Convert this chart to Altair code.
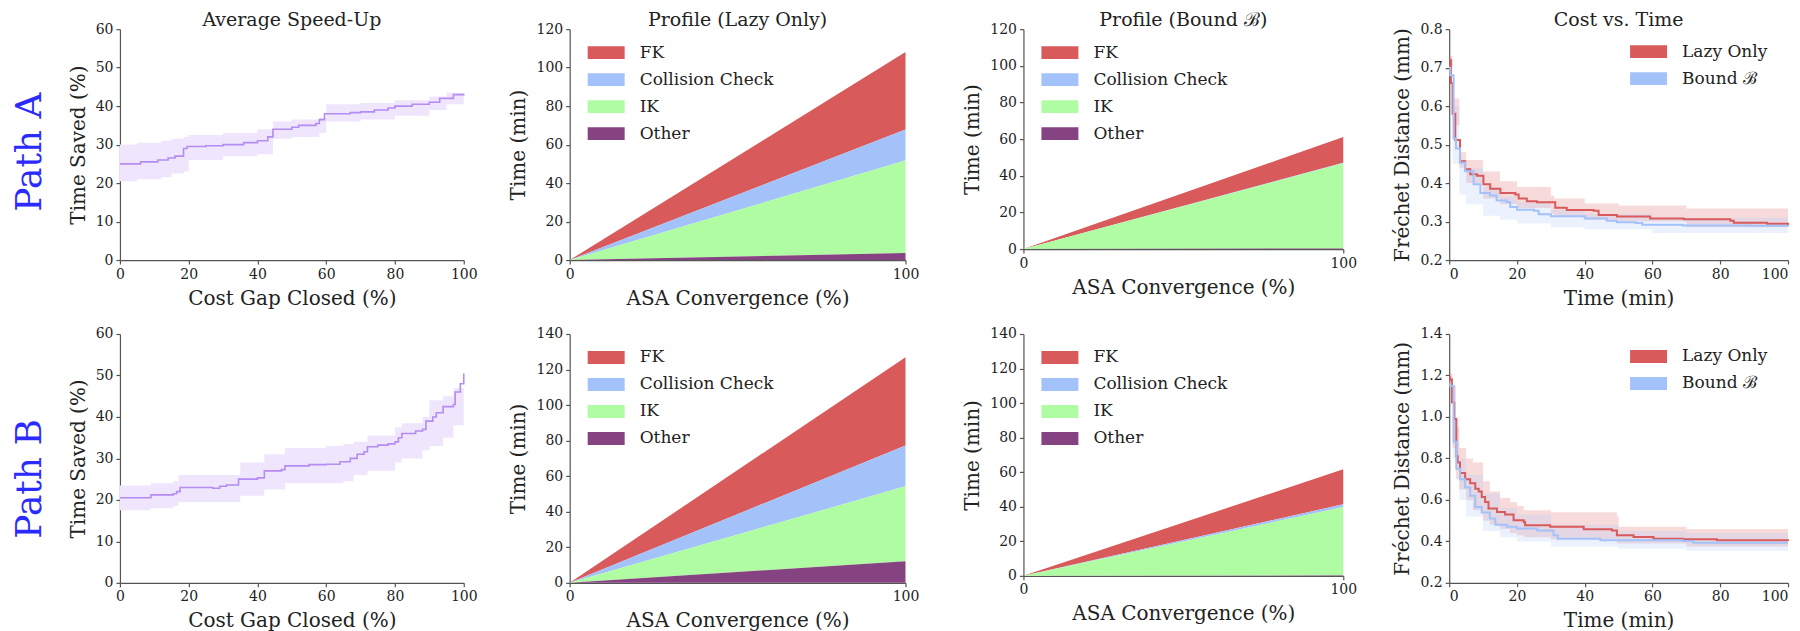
import altair as alt
import pandas as pd

FONT = "DejaVu Serif"
TXT = "#222222"
AXC = "#555555"

RED = "#d95a5b"
BLUE = "#a3c2f9"
GREEN = "#b0fca2"
PLUM = "#854381"
LINE_PURPLE = "#b48cf2"
BAND_PURPLE = "#efe6fd"
PATH_BLUE = "#2b2bff"

# ---------------- Average speed-up (Path A) ----------------
spA_x = [0, 6, 11, 14, 16, 18.5, 19.5, 25, 30, 36, 40, 43, 44.5, 50, 52, 57, 58, 59.5, 67, 70, 74, 78, 80, 85, 90, 93, 97, 100]
spA_y = [25, 25.5, 26, 26.5, 27, 29, 29.5, 29.7, 30, 30.5, 31, 32, 34, 34.5, 35, 35.5, 36.5, 38, 38.3, 38.5, 39, 39.5, 40, 40.5, 41, 42, 43, 43.2]
spA_band_x = [0, 5, 12, 15, 18.5, 20, 30, 40, 44.5, 50, 58, 60, 70, 80, 90, 95, 100]
spA_lo = [20.5, 21, 21.5, 22.5, 23, 26, 27, 27.5, 31.5, 32, 33, 36, 36.5, 37.5, 39, 40.5, 42]
spA_hi = [30, 30.5, 31, 31.5, 32, 32.5, 33, 34, 36, 36.5, 37, 40.5, 40.8, 41.5, 42.5, 43.5, 44]

# ---------------- Average speed-up (Path B) ----------------
spB_x = [0, 9, 15.5, 16.5, 17.5, 27, 29, 31, 34.5, 40, 42, 47, 48, 55, 60, 64, 67, 69, 71, 72, 75, 78, 80, 81, 82, 86, 88, 89, 91, 92, 94, 97, 97.5, 99, 100]
spB_y = [20.5, 21.2, 21.5, 22, 23, 22.8, 23.3, 23.6, 25, 25.3, 27, 27.3, 28.2, 28.5, 28.6, 29.2, 30, 31, 31.6, 32.8, 33.2, 33.5, 34, 35, 36, 36.6, 37, 39, 40, 41, 42.5, 43, 46, 48, 50.5]
spB_band_x = [0, 9, 15.5, 17, 35, 42, 48, 60, 65, 68, 72, 80, 82, 88, 90, 94, 97, 100]
spB_lo = [17.5, 18, 18.5, 19.5, 21, 22.5, 24, 24, 24.5, 26, 27, 29, 30, 32, 33, 35, 38, 46]
spB_hi = [23.5, 24, 24.5, 26, 29, 31, 32.5, 33, 33.5, 34, 35.5, 37.5, 38.5, 40, 44, 45, 47, 52]

# ---------------- Profiles ----------------
categories = ["FK", "Collision Check", "IK", "Other"]
cat_colors = [RED, BLUE, GREEN, PLUM]
cat_stack = [3, 2, 1, 0]
prof_x = [0, 100]
profA_lazy_start = [0, 0, 0, 0]
profA_lazy_end = [40.3, 16.1, 48.1, 3.6]
profA_bound_start = [0, 0, 0, 0]
profA_bound_end = [14.0, 0.3, 46.5, 0.3]
profB_lazy_start = [0, 0, 0, 0]
profB_lazy_end = [49.6, 23.0, 42.1, 12.2]
profB_bound_start = [0, 0, 0, 0]
profB_bound_end = [20.3, 1.6, 39.5, 0.3]

# ---------------- Cost vs time ----------------
series_names = ["Lazy Only", "Bound \u212c"]
series_colors = [RED, BLUE]

cA_lazy_t = [0, 0.5, 1, 1.8, 3.2, 4.7, 6.2, 8.2, 10.1, 12.1, 15.1, 19.5, 20.5, 22.9, 25.9, 30.3, 31.3, 34.7, 42.6, 44.1, 49.5, 59.3, 69.2, 83, 84, 93.8, 100]
cA_lazy_v = [0.72, 0.66, 0.58, 0.512, 0.457, 0.436, 0.423, 0.419, 0.397, 0.385, 0.374, 0.37, 0.36, 0.353, 0.35, 0.35, 0.336, 0.33, 0.328, 0.317, 0.313, 0.308, 0.306, 0.302, 0.297, 0.294, 0.29]
cA_lazy_bt = [0, 1, 3, 5, 10, 15, 20, 30, 31, 40, 50, 70, 100]
cA_lazy_lo = [0.70, 0.55, 0.44, 0.40, 0.36, 0.345, 0.335, 0.32, 0.315, 0.305, 0.30, 0.285, 0.27]
cA_lazy_hi = [0.73, 0.62, 0.48, 0.46, 0.43, 0.405, 0.39, 0.368, 0.36, 0.347, 0.342, 0.334, 0.32]

cA_bound_t = [0, 0.3, 1.3, 2, 3.2, 4.7, 7.2, 9.2, 12, 14, 17, 18, 20, 25, 26.4, 30, 40, 46.5, 49.5, 55, 57, 69, 89, 100]
cA_bound_v = [0.70, 0.68, 0.516, 0.49, 0.453, 0.431, 0.397, 0.374, 0.368, 0.355, 0.351, 0.338, 0.331, 0.328, 0.319, 0.314, 0.308, 0.302, 0.298, 0.296, 0.292, 0.29, 0.289, 0.287]
cA_bound_bt = [0, 1, 3, 5, 10, 15, 20, 30, 40, 60, 100]
cA_bound_lo = [0.69, 0.45, 0.37, 0.345, 0.315, 0.305, 0.295, 0.285, 0.28, 0.27, 0.262]
cA_bound_hi = [0.71, 0.60, 0.46, 0.44, 0.39, 0.365, 0.35, 0.33, 0.32, 0.31, 0.30]

cB_lazy_t = [0, 0.3, 0.8, 1.5, 2.1, 2.5, 3.2, 4.7, 6.2, 7.7, 8.7, 9.6, 10.6, 11.6, 14.1, 16.5, 19, 22, 22.4, 29.8, 39.7, 48, 49.5, 54.4, 60.3, 69, 79, 100]
cB_lazy_v = [1.19, 1.18, 1.07, 0.99, 0.81, 0.78, 0.73, 0.70, 0.68, 0.654, 0.64, 0.614, 0.59, 0.558, 0.542, 0.529, 0.502, 0.494, 0.478, 0.47, 0.458, 0.453, 0.43, 0.421, 0.413, 0.41, 0.405, 0.402]
cB_lazy_bt = [0, 1, 2, 3, 5, 7, 10, 12, 15, 18, 20, 22, 30, 49.5, 50, 70, 100]
cB_lazy_lo = [1.17, 0.85, 0.70, 0.65, 0.60, 0.55, 0.50, 0.48, 0.46, 0.44, 0.43, 0.42, 0.41, 0.39, 0.39, 0.375, 0.36]
cB_lazy_hi = [1.21, 1.15, 0.95, 0.85, 0.80, 0.78, 0.69, 0.64, 0.61, 0.59, 0.57, 0.55, 0.54, 0.52, 0.47, 0.46, 0.455]

cB_bound_t = [0, 0.3, 1.3, 2.1, 3.2, 4.7, 6.2, 7.7, 9.6, 12, 13.6, 17, 20, 25.9, 30.8, 32, 44.6, 69, 72, 100]
cB_bound_v = [1.16, 1.15, 0.88, 0.75, 0.70, 0.66, 0.62, 0.566, 0.539, 0.51, 0.48, 0.47, 0.462, 0.453, 0.43, 0.413, 0.405, 0.402, 0.393, 0.393]
cB_bound_bt = [0, 1, 3, 5, 10, 15, 20, 30, 50, 70, 100]
cB_bound_lo = [1.14, 0.80, 0.60, 0.52, 0.45, 0.42, 0.40, 0.375, 0.365, 0.355, 0.34]
cB_bound_hi = [1.18, 1.00, 0.80, 0.72, 0.63, 0.56, 0.53, 0.48, 0.45, 0.44, 0.43]

# ---------------- layout sizes ----------------
W = [344, 336, 320, 339]
H_A, H_A3 = 231, 220
H_B, H_B3 = 249, 242
TEXT_W = 2
P3_SHIFT = 12  # extra room left of panel 3's plot area
COL_GAP = 106

RECT = "M-1,-0.35H1V0.35H-1Z"


def title_params(text, dx=0):
    return alt.TitleParams(text=text, font=FONT, fontSize=19, fontWeight="normal",
                           color=TXT, offset=-8, anchor="middle", dx=dx)


def legend(x, y):
    return alt.Legend(title=None, orient="none", legendX=x, legendY=y,
                      symbolType=RECT, symbolSize=1369, symbolStrokeWidth=0,
                      symbolOpacity=1, labelFont=FONT, labelFontSize=17,
                      labelColor=TXT, labelOffset=15, rowPadding=0, padding=0)


def speed_panel(xs, ys, bx, lo, hi, h, title=None):
    line_df = pd.DataFrame({"x": xs, "y": ys})
    band_df = pd.DataFrame({"x": bx, "lo": lo, "hi": hi})
    xsc = alt.Scale(domain=[0, 100], nice=False)
    ysc = alt.Scale(domain=[0, 60], nice=False)
    xax = alt.Axis(values=[0, 20, 40, 60, 80, 100], title="Cost Gap Closed (%)")
    yax = alt.Axis(values=[0, 10, 20, 30, 40, 50, 60], title="Time Saved (%)")
    band = alt.Chart(band_df).mark_area(interpolate="step-after", color=BAND_PURPLE).encode(
        x=alt.X("x:Q", scale=xsc, axis=xax),
        y=alt.Y("lo:Q", scale=ysc, axis=yax),
        y2="hi:Q",
    )
    line = alt.Chart(line_df).mark_line(interpolate="step-after", color=LINE_PURPLE, strokeWidth=1.6).encode(
        x=alt.X("x:Q", scale=xsc, axis=xax),
        y=alt.Y("y:Q", scale=ysc, axis=yax),
    )
    props = dict(width=W[0], height=h)
    if title:
        props["title"] = title_params(title)
    return alt.layer(band, line).properties(**props)


def profile_panel(start, end, ymax, w, h, title=None, shift=0):
    rows = []
    for c, o, s, e in zip(categories, cat_stack, start, end):
        rows.append({"x": prof_x[0], "t": s, "cat": c, "ord": o})
        rows.append({"x": prof_x[1], "t": e, "cat": c, "ord": o})
    df = pd.DataFrame(rows)
    if shift:
        xsc = alt.Scale(domain=[0, 100], nice=False, range=[shift, w + shift])
        xax = alt.Axis(values=[0, 100], title="ASA Convergence (%)", titleX=shift + w / 2)
        yax = alt.Axis(values=list(range(0, ymax + 1, 20)), title="Time (min)", offset=-shift)
    else:
        xsc = alt.Scale(domain=[0, 100], nice=False)
        xax = alt.Axis(values=[0, 100], title="ASA Convergence (%)")
        yax = alt.Axis(values=list(range(0, ymax + 1, 20)), title="Time (min)")
    ch = alt.Chart(df).mark_area(opacity=1).encode(
        x=alt.X("x:Q", scale=xsc, axis=xax),
        y=alt.Y("t:Q", stack="zero", scale=alt.Scale(domain=[0, ymax], nice=False), axis=yax),
        color=alt.Color("cat:N", scale=alt.Scale(domain=categories, range=cat_colors),
                        legend=legend(18 + shift, 5)),
        order=alt.Order("ord:Q", sort="ascending"),
    )
    props = dict(width=w + shift, height=h)
    if title:
        props["title"] = title_params(title, dx=shift / 2)
    return ch.properties(**props)


def cost_panel(lines, bands, ydom, yvals, h, title=None):
    lrows, brows = [], []
    for name, (ts, vs) in zip(series_names, lines):
        for t, v in zip(ts, vs):
            lrows.append({"t": t, "v": v, "s": name})
    for name, (ts, lo, hi) in zip(series_names, bands):
        for t, a, b in zip(ts, lo, hi):
            brows.append({"t": t, "lo": a, "hi": b, "s": name})
    ldf = pd.DataFrame(lrows)
    bdf = pd.DataFrame(brows)
    xsc = alt.Scale(domain=[0, 100], nice=False)
    ysc = alt.Scale(domain=ydom, nice=False)
    xax = alt.Axis(values=[0, 20, 40, 60, 80, 100], title="Time (min)", labelFlush=True)
    yax = alt.Axis(values=yvals, format=".1f", title="Fr\u00e9chet Distance (mm)")
    band = alt.Chart(bdf).mark_area(interpolate="step-after", fillOpacity=0.22).encode(
        x=alt.X("t:Q", scale=xsc, axis=xax),
        y=alt.Y("lo:Q", scale=ysc, axis=yax),
        y2="hi:Q",
        fill=alt.Fill("s:N", scale=alt.Scale(domain=series_names, range=series_colors),
                      legend=legend(181, 4)),
    )
    line = alt.Chart(ldf).mark_line(interpolate="step-after", strokeWidth=2).encode(
        x=alt.X("t:Q", scale=xsc, axis=xax),
        y=alt.Y("v:Q", scale=ysc, axis=yax),
        stroke=alt.Stroke("s:N", scale=alt.Scale(domain=series_names, range=series_colors), legend=None),
    )
    props = dict(width=W[3], height=h)
    if title:
        props["title"] = title_params(title)
    return alt.layer(band, line).properties(**props)


def path_label(text, h, y):
    df = pd.DataFrame({"label": [text]})
    return alt.Chart(df).mark_text(angle=270, font=FONT, fontSize=36, color=PATH_BLUE,
                                   align="center", baseline="middle").encode(
        text="label:N", x=alt.value(18), y=alt.value(y)
    ).properties(width=TEXT_W, height=h)


textA = path_label("Path A", H_A, 123)
textB = path_label("Path B", H_B, 145)

p1a = speed_panel(spA_x, spA_y, spA_band_x, spA_lo, spA_hi, H_A, "Average Speed-Up")
p1b = speed_panel(spB_x, spB_y, spB_band_x, spB_lo, spB_hi, H_B)
p2a = profile_panel(profA_lazy_start, profA_lazy_end, 120, W[1], H_A, "Profile (Lazy Only)")
p2b = profile_panel(profB_lazy_start, profB_lazy_end, 140, W[1], H_B)
p3a = profile_panel(profA_bound_start, profA_bound_end, 120, W[2], H_A3, "Profile (Bound \u212c)", shift=P3_SHIFT)
p3b = profile_panel(profB_bound_start, profB_bound_end, 140, W[2], H_B3, shift=P3_SHIFT)
p4a = cost_panel([(cA_lazy_t, cA_lazy_v), (cA_bound_t, cA_bound_v)],
                 [(cA_lazy_bt, cA_lazy_lo, cA_lazy_hi), (cA_bound_bt, cA_bound_lo, cA_bound_hi)],
                 [0.2, 0.8], [0.2, 0.3, 0.4, 0.5, 0.6, 0.7, 0.8], H_A, "Cost vs. Time")
p4b = cost_panel([(cB_lazy_t, cB_lazy_v), (cB_bound_t, cB_bound_v)],
                 [(cB_lazy_bt, cB_lazy_lo, cB_lazy_hi), (cB_bound_bt, cB_bound_lo, cB_bound_hi)],
                 [0.2, 1.4], [0.2, 0.4, 0.6, 0.8, 1.0, 1.2, 1.4], H_B)

chart = alt.concat(
    textA, p1a, p2a, p3a, p4a,
    textB, p1b, p2b, p3b, p4b,
    columns=5, spacing={"row": 74, "column": COL_GAP}, bounds="flush",
).resolve_scale(color="independent", fill="independent", stroke="independent").properties(
    padding={"left": 3, "top": 3, "right": 0, "bottom": 0}
).configure_view(strokeOpacity=0).configure_axis(
    grid=False, domainColor=AXC, tickColor=AXC, tickSize=4, domainWidth=1.2, tickWidth=1.2,
    labelFont=FONT, labelFontSize=14, labelColor=TXT, labelPadding=3, labelFlush=False,
    labelOverlap=False,
    titleFont=FONT, titleFontSize=20, titleFontWeight="normal", titleColor=TXT, titlePadding=7,
)

chart.save("out.html", embed_options={"renderer": "svg", "actions": False})
